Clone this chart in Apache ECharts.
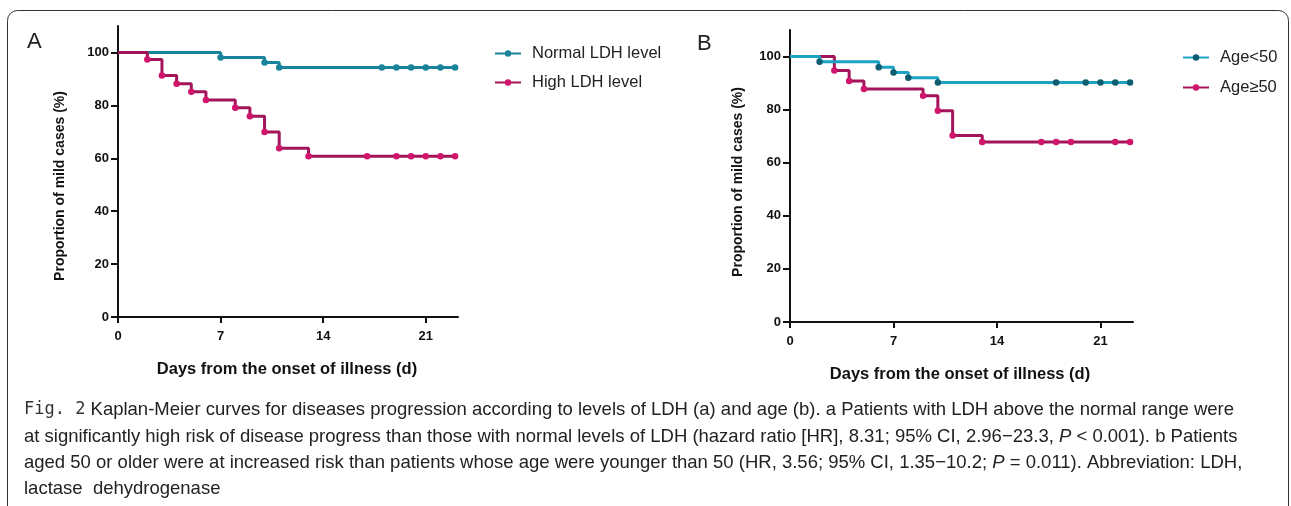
<!DOCTYPE html>
<html>
<head>
<meta charset="utf-8">
<script src="https://cdn.jsdelivr.net/npm/echarts@6/dist/echarts.min.js"></script>
<style>
  html, body { margin: 0; padding: 0; background: #fff; }
  #chart { width: 1291px; height: 506px; }
</style>
</head>
<body>
<div id="chart"></div>
<script>
// 数据: 天数 + 生存比例(%)
const xTicks = [0, 7, 14, 21];
const yTicks = [0, 20, 40, 60, 80, 100];

// A: LDH
const normalDays = [0, 7, 10, 11, 18, 19, 20, 21, 22, 23];
const normalSurv = [100, 98.1, 96.2, 94.3, 94.3, 94.3, 94.3, 94.3, 94.3, 94.3];
const highDays = [0, 2, 3, 4, 5, 6, 8, 9, 10, 11, 13, 17, 19, 20, 21, 22, 23];
const highSurv = [100, 97.3, 91.3, 88.2, 85.1, 82.0, 79.1, 75.9, 69.9, 63.8, 60.8, 60.8, 60.8, 60.8, 60.8, 60.8, 60.8];

// B: 年龄
const youngDays = [0, 2, 6, 7, 8, 10, 18, 20, 21, 22, 23];
const youngSurv = [100, 98.0, 96.0, 94.0, 92.0, 90.2, 90.2, 90.2, 90.2, 90.2, 90.2];
const oldDays = [0, 3, 4, 5, 9, 10, 11, 13, 17, 18, 19, 22, 23];
const oldSurv = [100, 94.7, 90.8, 87.8, 85.2, 79.6, 70.3, 67.8, 67.8, 67.8, 67.8, 67.8, 67.8];

// 合并成 [x, y], 起点不画圆点
function kmData(days, surv) {
  return days.map((d, i) => i === 0
    ? { value: [d, surv[i]], symbol: 'none' }
    : { value: [d, surv[i]] });
}

const teal = '#1a839c';
const tealB = '#1ba3c4';
const tealDot = '#0e5d70';
const wine = '#a3145a';
const pink = '#d0156c';

const FONT = '"Liberation Sans", Arial, sans-serif';
const axisFont = { fontFamily: FONT, fontWeight: 'bold', fontSize: 13, color: '#111' };

function xAxisFor(gridIndex) {
  return {
    gridIndex, type: 'value', min: 0, max: 23.2,
    axisLine: { lineStyle: { color: '#111', width: 2 } },
    axisTick: { show: true, length: 6, lineStyle: { color: '#111', width: 2 }, customValues: xTicks },
    axisLabel: Object.assign({ customValues: xTicks, margin: 13 }, axisFont),
    splitLine: { show: false }
  };
}
function yAxisFor(gridIndex) {
  return {
    gridIndex, type: 'value', min: 0, max: 110,
    axisLine: { show: true, lineStyle: { color: '#111', width: 2 } },
    axisTick: { show: true, length: 7, lineStyle: { color: '#111', width: 2 }, customValues: yTicks },
    axisLabel: Object.assign({ customValues: yTicks, margin: 9 }, axisFont),
    splitLine: { show: false }
  };
}
function kmSeries(name, days, surv, idx, lineColor, dotColor, z) {
  return {
    name, type: 'line', step: 'end',
    xAxisIndex: idx, yAxisIndex: idx,
    data: kmData(days, surv),
    symbol: 'circle', symbolSize: 6.5, showSymbol: true,
    lineStyle: { color: lineColor, width: 3 },
    itemStyle: { color: dotColor },
    color: lineColor,
    z
  };
}
function legendFor(names, left, top, gap) {
  return {
    data: names, orient: 'vertical', left, top,
    itemWidth: 26, itemHeight: 8, itemGap: gap,
    textStyle: { fontFamily: FONT, fontSize: 16.5, color: '#222', padding: [0, 0, 0, 6] }
  };
}

const titleFont = 'bold 16.5px ' + FONT;
const capFont = '18.5px ' + FONT;
const capItalic = 'italic 18.5px ' + FONT;

const option = {
  backgroundColor: '#fff',
  animation: false,
  grid: [
    { left: 118, right: 833, top: 26, bottom: 189 },
    { left: 790, right: 158, top: 30, bottom: 184 }
  ],
  xAxis: [xAxisFor(0), xAxisFor(1)],
  yAxis: [yAxisFor(0), yAxisFor(1)],
  legend: [
    legendFor(['Normal LDH level', 'High LDH level'], 489, 40, 12),
    legendFor(['Age<50', 'Age≥50'], 1177, 44, 13)
  ],
  series: [
    kmSeries('Normal LDH level', normalDays, normalSurv, 0, teal, teal, 2),
    kmSeries('High LDH level', highDays, highSurv, 0, wine, pink, 3),
    kmSeries('Age<50', youngDays, youngSurv, 1, tealB, tealDot, 3),
    kmSeries('Age≥50', oldDays, oldSurv, 1, wine, pink, 2)
  ],
  graphic: [
    // 外框
    { type: 'rect', shape: { x: 7.5, y: 10.5, width: 1281, height: 520, r: 10 },
      style: { fill: 'none', stroke: '#333', lineWidth: 1 }, silent: true },
    // 面板字母
    { type: 'text', left: 27, top: 31, style: { text: 'A', font: '22px ' + FONT, fill: '#222' } },
    { type: 'text', left: 697, top: 33, style: { text: 'B', font: '22px ' + FONT, fill: '#222' } },
    // 轴标题
    { type: 'text', x: 60, y: 186, rotation: Math.PI / 2,
      style: { text: 'Proportion of mild cases (%)', font: 'bold 14px ' + FONT, fill: '#111', align: 'center', verticalAlign: 'middle' } },
    { type: 'text', x: 738, y: 182, rotation: Math.PI / 2,
      style: { text: 'Proportion of mild cases (%)', font: 'bold 14px ' + FONT, fill: '#111', align: 'center', verticalAlign: 'middle' } },
    { type: 'text', x: 287, y: 369,
      style: { text: 'Days from the onset of illness (d)', font: titleFont, fill: '#111', align: 'center', verticalAlign: 'middle' } },
    { type: 'text', x: 960, y: 374,
      style: { text: 'Days from the onset of illness (d)', font: titleFont, fill: '#111', align: 'center', verticalAlign: 'middle' } },
    // 图注
    { type: 'text', x: 24, y: 410,
      style: {
        text: '{f|Fig. 2} Kaplan-Meier curves for diseases progression according to levels of LDH (a) and age (b). a Patients with LDH above the normal range were',
        font: capFont, fill: '#222', verticalAlign: 'middle',
        rich: { f: { font: '17px "DejaVu Sans Mono", monospace', fill: '#333' } }
      } },
    { type: 'text', x: 24, y: 437,
      style: {
        text: 'at significantly high risk of disease progress than those with normal levels of LDH (hazard ratio [HR], 8.31; 95% CI, 2.96\u221223.3, {i|P} < 0.001). b Patients',
        font: capFont, fill: '#222', verticalAlign: 'middle',
        rich: { i: { font: capItalic, fill: '#222' } }
      } },
    { type: 'text', x: 24, y: 463,
      style: {
        text: 'aged 50 or older were at increased risk than patients whose age were younger than 50 (HR, 3.56; 95% CI, 1.35\u221210.2; {i|P} = 0.011). Abbreviation: LDH,',
        font: capFont, fill: '#222', verticalAlign: 'middle',
        rich: { i: { font: capItalic, fill: '#222' } }
      } },
    { type: 'text', x: 24, y: 489,
      style: { text: 'lactase  dehydrogenase', font: capFont, fill: '#222', verticalAlign: 'middle' } }
  ]
};

const chart = echarts.init(document.getElementById('chart'));
chart.setOption(option);
</script>
</body>
</html>
